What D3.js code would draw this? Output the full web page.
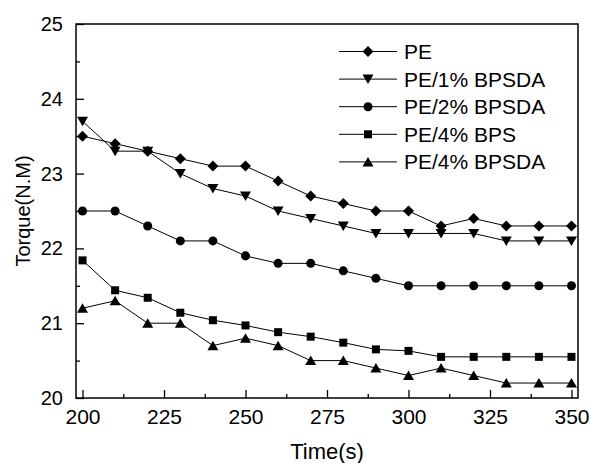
<!DOCTYPE html>
<meta charset="utf-8">
<style>
    body { margin: 0; background: #fff; }
    text { font-family: Arial, "Liberation Sans", sans-serif; fill: #000; }
    .line { fill: none; stroke: #000; stroke-width: 1; }
</style>
<svg width="591" height="463"></svg>
<script src="https://cdn.jsdelivr.net/npm/d3@7"></script>
<script>

    var times = [200, 210, 220, 230, 240, 250, 260, 270, 280, 290, 300, 310, 320, 330, 340, 350];

    var pe = [23.5, 23.4, 23.3, 23.2, 23.1, 23.1, 22.9, 22.7, 22.6, 22.5, 22.5, 22.3, 22.4, 22.3, 22.3, 22.3];
    var pe1 = [23.7, 23.3, 23.3, 23.0, 22.8, 22.7, 22.5, 22.4, 22.3, 22.2, 22.2, 22.2, 22.2, 22.1, 22.1, 22.1];
    var pe2 = [22.5, 22.5, 22.3, 22.1, 22.1, 21.9, 21.8, 21.8, 21.7, 21.6, 21.5, 21.5, 21.5, 21.5, 21.5, 21.5];
    var pe4bps = [21.84, 21.44, 21.34, 21.14, 21.04, 20.97, 20.88, 20.82, 20.74, 20.65, 20.63, 20.55, 20.55, 20.55, 20.55, 20.55];
    var pe4bpsda = [21.2, 21.3, 21.0, 21.0, 20.7, 20.8, 20.7, 20.5, 20.5, 20.4, 20.3, 20.4, 20.3, 20.2, 20.2, 20.2];

    var seriesNames = ["PE", "PE/1% BPSDA", "PE/2% BPSDA", "PE/4% BPS", "PE/4% BPSDA"];
    var seriesValues = [pe, pe1, pe2, pe4bps, pe4bpsda];
    var markers = ["diamond", "down", "circle", "square", "up"];

    var xTicks = [200, 225, 250, 275, 300, 325, 350];
    var yTicks = [20, 21, 22, 23, 24, 25];

    var svg = d3.select("svg");
    var plotLeft = 76, plotRight = 578, plotTop = 24, plotBottom = 398;

    var x = d3.scaleLinear().domain([198, 352]).range([plotLeft, plotRight]);
    var y = d3.scaleLinear().domain([20, 25]).range([plotBottom, plotTop]);

    // marker shapes, centered on 0,0
    function markerPath(type) {
        switch (type) {
            case "diamond": return "M0,-5.5L5.5,0L0,5.5L-5.5,0Z";
            case "down": return "M-5.5,-4.5L5.5,-4.5L0,5Z";
            case "up": return "M-5.5,4.5L5.5,4.5L0,-5Z";
            case "square": return "M-4,-4H4V4H-4Z";
            case "circle": return d3.symbol(d3.symbolCircle, 64)();
        }
    }

    var line = d3.line()
        .x(function (d, i) { return x(times[i]); })
        .y(function (d) { return y(d); });

    seriesValues.forEach(function (vals, k) {
        svg.append("path")
            .datum(vals)
            .attr("class", "line")
            .attr("d", line);
        svg.append("g").selectAll("path")
            .data(vals)
            .enter().append("path")
            .attr("transform", function (d, i) { return "translate(" + x(times[i]) + "," + y(d) + ")"; })
            .attr("d", markerPath(markers[k]))
            .attr("fill", "#000");
    });

    // axes, ticks point inward
    var xAxis = svg.append("g")
        .attr("transform", "translate(0," + plotBottom + ")")
        .call(d3.axisBottom(x).tickValues(xTicks).tickSize(-8).tickPadding(11).tickFormat(d3.format("d")));
    xAxis.select(".domain").remove();
    xAxis.selectAll("text").attr("font-size", 21).attr("font-family", "Arial, 'Liberation Sans', sans-serif");

    svg.append("g")
        .attr("transform", "translate(0," + plotBottom + ")")
        .call(d3.axisBottom(x).tickValues(d3.range(212.5, 350, 25)).tickSize(-4).tickFormat(""))
        .select(".domain").remove();

    var yAxis = svg.append("g")
        .attr("transform", "translate(" + plotLeft + ",0)")
        .call(d3.axisLeft(y).tickValues(yTicks).tickSize(-8).tickPadding(13).tickFormat(d3.format("d")));
    yAxis.select(".domain").remove();
    yAxis.selectAll("text").attr("font-size", 20).attr("font-family", "Arial, 'Liberation Sans', sans-serif");

    svg.append("g")
        .attr("transform", "translate(" + plotLeft + ",0)")
        .call(d3.axisLeft(y).tickValues(d3.range(20.5, 25, 1)).tickSize(-4).tickFormat(""))
        .select(".domain").remove();

    svg.selectAll(".tick line").attr("stroke", "#000").attr("stroke-width", 1.3);

    svg.append("rect")
        .attr("x", plotLeft).attr("y", plotTop)
        .attr("width", plotRight - plotLeft).attr("height", plotBottom - plotTop)
        .attr("fill", "none").attr("stroke", "#000").attr("stroke-width", 1.5);

    // axis titles
    svg.append("text")
        .attr("x", (plotLeft + plotRight) / 2).attr("y", 459)
        .attr("text-anchor", "middle").attr("font-size", 22)
        .text("Time(s)");

    svg.append("text")
        .attr("transform", "translate(30," + (plotTop + plotBottom) / 2 + ") rotate(-90)")
        .attr("text-anchor", "middle").attr("font-size", 20)
        .text("Torque(N.M)");

    // legend
    var legend = svg.append("g").selectAll("g")
        .data(seriesNames)
        .enter().append("g")
        .attr("transform", function (d, i) { return "translate(339," + (51.5 + i * 27.6) + ")"; });

    legend.append("line")
        .attr("x1", 0).attr("x2", 58)
        .attr("stroke", "#000").attr("stroke-width", 1);
    legend.append("path")
        .attr("transform", "translate(29,0)")
        .attr("d", function (d, i) { return markerPath(markers[i]); })
        .attr("fill", "#000");
    legend.append("text")
        .attr("x", 65).attr("y", 7.5)
        .attr("font-size", 21)
        .text(function (d) { return d; });

</script>
